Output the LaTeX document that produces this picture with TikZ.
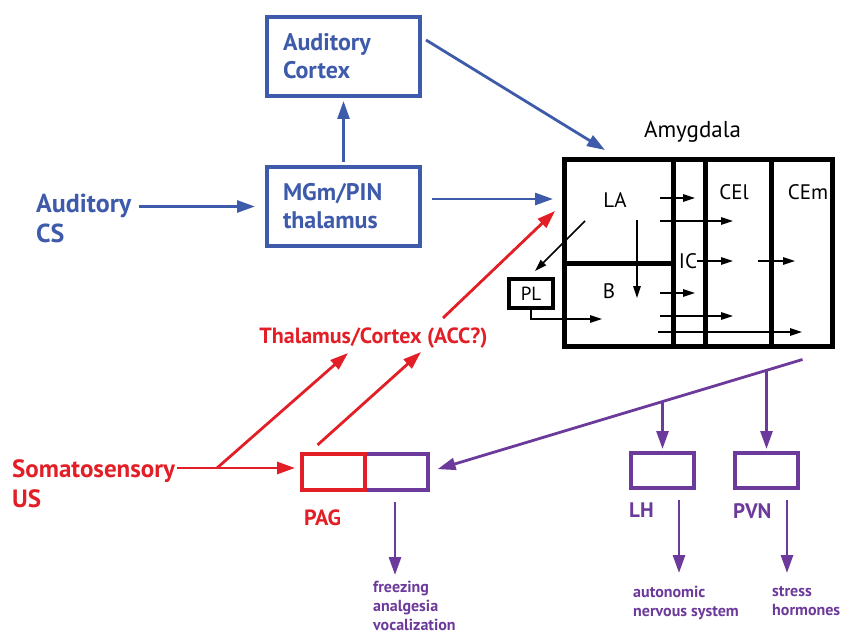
\documentclass[tikz,border=0pt]{standalone}
\usepackage{fontspec}
\setmainfont{PT Sans}
\usepackage{tikz}
\usetikzlibrary{arrows.meta,positioning}
\usepackage{xcolor}
\definecolor{azul}{RGB}{62,90,170}
\definecolor{rojo}{RGB}{226,30,38}
\definecolor{morado}{RGB}{108,58,155}
\tikzset{
	caja/.style={draw, line width=4pt, inner sep=0pt, outer sep=0pt},
	flecha/.style={line width=2.8pt, -{Triangle[length=18pt,width=12pt]}},
	fina/.style={line width=1.6pt, black, -{Triangle[length=12pt,width=7.5pt]}},
	txt/.style={inner sep=0pt, align=left, font=\fontsize{24}{28}\selectfont\bfseries},
	btxt/.style={inner sep=0pt, font=\fontsize{21}{25}\selectfont},
	ptxt/.style={inner sep=0pt, align=left, morado, font=\fontsize{16}{19}\selectfont\bfseries},
}

\begin{document}
\begin{tikzpicture}[x=1pt,y=-1pt]
		\def\bw{153}
		\def\bh{79}
		\useasboundingbox (0,0) rectangle (845,636);
		% via auditiva
		\node[caja, azul, txt, minimum width=\bw pt, minimum height=\bh pt, text width=121pt, inner xsep=16pt] (actx) at (343.5,56.5) {Auditory\\Cortex};
		\node[caja, azul, txt, minimum width=\bw pt, minimum height=\bh pt, text width=121pt, inner xsep=16pt] (mgm) at (343.5,206.5) {MGm/PIN\\thalamus};
		\node[txt, azul, font=\fontsize{26}{30}\selectfont\bfseries, anchor=north west] (cs) at (36,194) {Auditory\\CS};
		% amigdala
		\node[caja, line width=5pt, minimum width=268pt, minimum height=187pt] (amy) at (698.5,253) {};
		\node[btxt, font=\fontsize{23}{27}\selectfont, above=17pt of amy, xshift=-6pt] (amyname) {Amygdala};
		\foreach \x in {673,705,771}
		\draw[line width=5pt] (amy.north -| \x,0) -- (amy.south -| \x,0);
		\draw[line width=5pt] (amy.west |- 0,263) -- (673,263);
		\node[btxt] (la) at (615,200) {LA};
		\node[btxt] (b) at (609,291) {B};
		\node[btxt] (cel) at (734,192) {CEl};
		\node[btxt] (cem) at (808,192) {CEm};
		\node[btxt] (ic) at (688,261) {IC};
		\node[caja, btxt, font=\fontsize{19}{22}\selectfont, minimum width=44pt, minimum height=29pt] (pl) at (531,293.5) {PL};
		\begin{scope}[shift={(amy.north west)}]
		\foreach \xa/\xb/\y in {95.5/130.5/38.5, 95.5/168.5/61.5, 132.5/168.5/101.5, 193.5/230.5/101.5, 95.5/130.5/133.5, 95.5/168.5/156.5, 93.5/237.5/172.5}
		\draw[fina] (\xa,\y) -- (\xb,\y);
		\draw[fina] (72.5,60.5) -- (72.5,138.5); % LA -> B
		\draw[fina] (20.5,61.5) -- ([shift={(4,-8)}]pl.north);
		\end{scope}
		\draw[fina] (pl.south) |- ([shift={(37.5,159.5)}]amy.north west);
		% flechas azules
		\draw[flecha, azul, shorten <=7pt, shorten >=12pt] (cs.east |- mgm.west) -- (mgm.west);
		\draw[flecha, azul, shorten <=5pt, shorten >=5pt] (mgm.north) -- (actx.south);
		\draw[flecha, azul] ([shift={(6,23)}]actx.north east) -- ([shift={(40.5,-9.5)}]amy.north west);
		\draw[flecha, azul] ([shift={(12,-7.5)}]mgm.east) -- ([shift={(-11.5,-7.5)}]amy.west |- mgm.east);
		% via somatosensorial
		\node[txt, rojo, font=\fontsize{25}{30}\selectfont\bfseries, anchor=north west] (soma) at (12,459) {Somatosensory\\US};
		\node[txt, rojo, font=\fontsize{22}{26}\selectfont\bfseries, anchor=base] (thal) at (373.5,343) {Thalamus/Cortex (ACC?)};
		\node[caja, morado, minimum width=63pt, minimum height=36pt] (pagp) at (396.5,472) {};
		\node[caja, rojo, minimum width=63pt, minimum height=36pt] (pagr) at (333.5,472) {};
		\node[txt, rojo, font=\fontsize{22}{26}\selectfont\bfseries, anchor=north west] (pagname) at (304,510) {PAG};
		\coordinate (split) at (217,468);
		\draw[flecha, rojo, shorten <=2pt] (soma.east |- split) -- ([shift={(-7,-4)}]pagr.west);
		\draw[flecha, rojo] (split) -- ([shift={(-25.5,10)}]thal.base);
		\draw[flecha, rojo] ([shift={(-16,-9)}]pagr.north) -- ([shift={(47.5,9)}]thal.base);
		\draw[flecha, rojo] ([shift={(69.5,-25)}]thal.base) -- ([shift={(-9.5,-42)}]amy.west);
		% salidas
		\node[caja, morado, minimum width=63pt, minimum height=35pt] (lh) at (662.5,470.5) {};
		\node[caja, morado, minimum width=63pt, minimum height=35pt] (pvn) at (766.5,470.5) {};
		\node[txt, morado, font=\fontsize{21}{25}\selectfont\bfseries, anchor=north west] (lhname) at (629,503) {LH};
		\node[txt, morado, font=\fontsize{21}{25}\selectfont\bfseries, anchor=north west] (pvnname) at (733,503) {PVN};
		\coordinate (amyout) at ([shift={(-30,13)}]amy.south east);
		\draw[flecha, morado, shorten >=10pt] (amyout) -- (pagp.east);
		\coordinate (lhsplit) at (intersection of amyout--pagp.east and lh.north--lh.south);
		\coordinate (pvnsplit) at (intersection of amyout--pagp.east and pvn.north--pvn.south);
		\draw[flecha, morado, shorten >=4pt] (lhsplit) -- (lh.north);
		\draw[flecha, morado, shorten >=4pt] (pvnsplit) -- (pvn.north);
		\draw[flecha, morado] ([shift={(-1.5,12)}]pagp.south) -- ([shift={(-1.5,85)}]pagp.south);
		\draw[flecha, morado] ([shift={(16.5,12)}]lh.south) -- ([shift={(16.5,85)}]lh.south);
		\draw[flecha, morado] ([shift={(20.5,12)}]pvn.south) -- ([shift={(20.5,85)}]pvn.south);
		\node[ptxt, anchor=north west] (frz) at (373,581) {freezing\\analgesia\\vocalization};
		\node[ptxt, anchor=north west] (ans) at (633,586) {autonomic\\nervous system};
		\node[ptxt, anchor=north west] (hor) at (772,586) {stress\\hormones};
		\end{tikzpicture}
\end{document}
